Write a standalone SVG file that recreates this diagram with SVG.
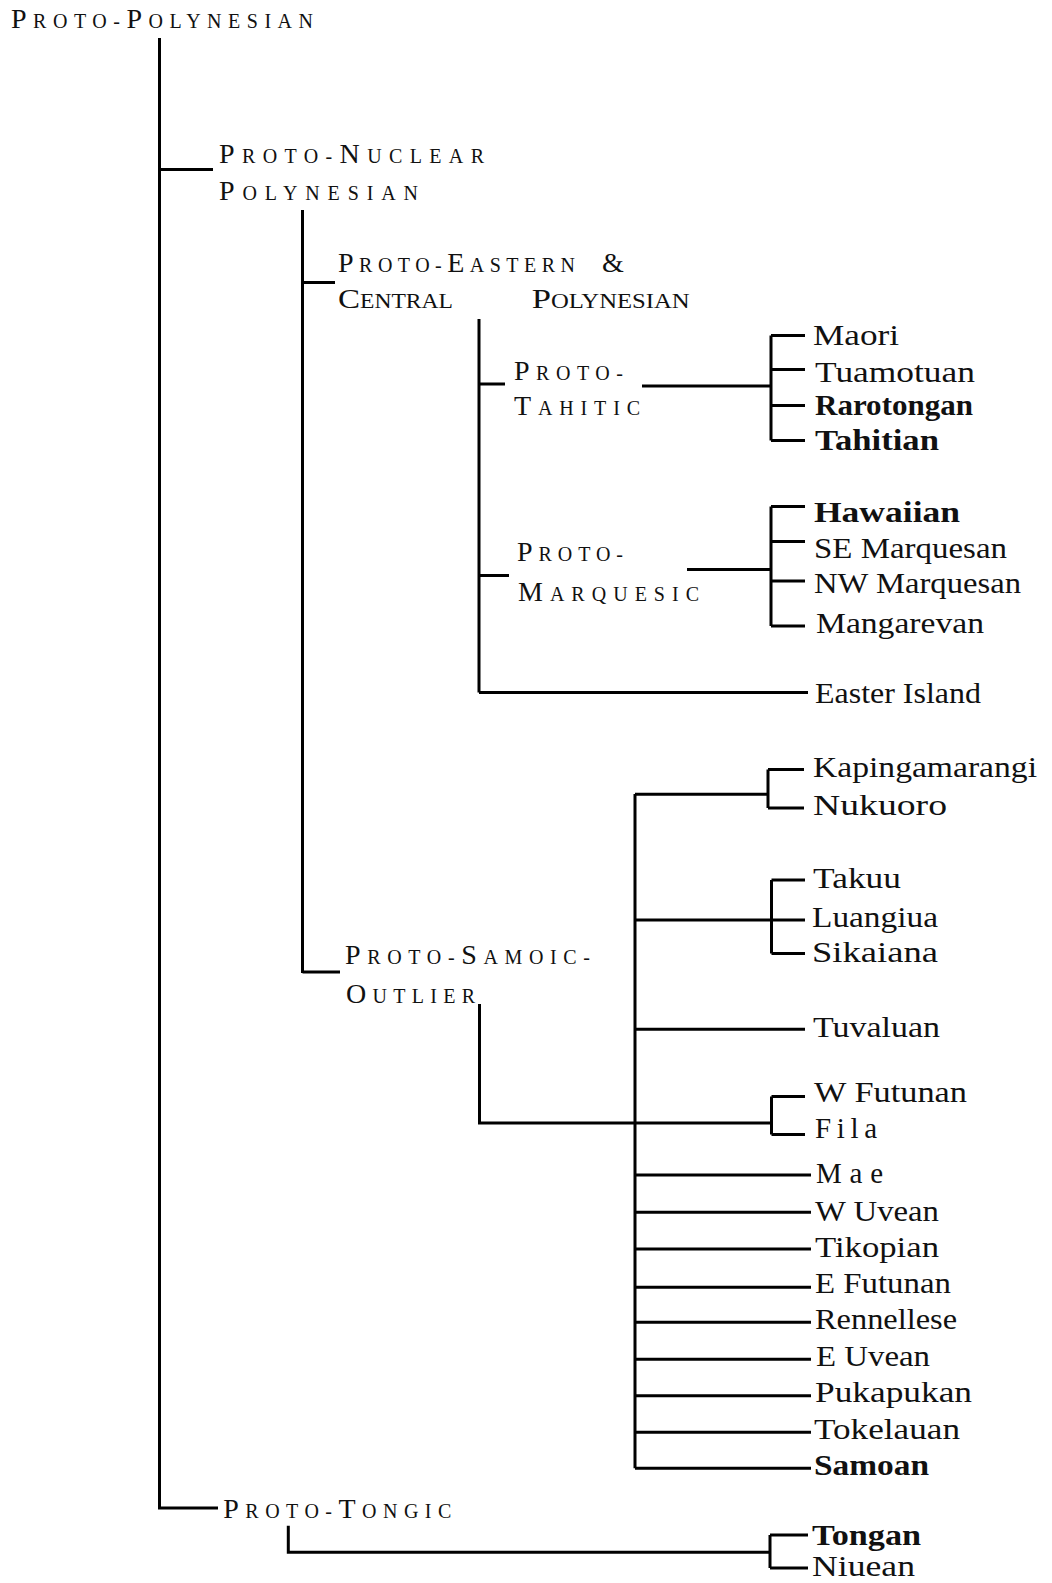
<svg xmlns="http://www.w3.org/2000/svg" width="1052" height="1583" viewBox="0 0 1052 1583">
<style>
.c{fill:none;stroke:#000;stroke-width:3;stroke-linecap:butt}
.sc{font-family:"Liberation Serif",serif;font-size:20px;fill:#111;letter-spacing:3px}
.sc .b{font-size:28px}
.lf{font-family:"Liberation Serif",serif;font-size:29px;fill:#111}
.bd{font-weight:bold}
</style>
<rect width="1052" height="1583" fill="#fff"/>
<g id="connectors">
<path class="c" d="M159.5,38V1508H218M159.5,169.5H213"/>
<path class="c" d="M302.5,210V973M302.5,282.5H335M302.5,972H340"/>
<path class="c" d="M479,319V692.5M479,384H505M479,575.5H509M479,692.5H808"/>
<path class="c" d="M642,386H771M771,335.5V440.5M771,335.5H805M771,369.5H805M771,405.5H805M771,440.5H805"/>
<path class="c" d="M687,569.5H771M771,506.5V626M771,506.5H805M771,541.5H805M771,581H805M771,626H805"/>
<path class="c" d="M479.5,1004V1123H771.5M771.5,1096.5V1134.5M771.5,1096.5H805M771.5,1134.5H805"/>
<path class="c" d="M635,794V1468.3"/>
<path class="c" d="M635,794.3H768M768,769.5V808M768,769.5H804M768,808H804"/>
<path class="c" d="M635,920H805M771.5,880V953.5M771.5,880H805M771.5,953.5H805"/>
<path class="c" d="M635,1029.3H805"/>
<path class="c" d="M635,1175H811M635,1212.3H811M635,1249H811M635,1287.3H811M635,1322.3H811M635,1359.3H811M635,1395.7H811M635,1432.3H811M635,1468.3H811"/>
<path class="c" d="M288.3,1525.7V1552.3H770M770,1535V1568M770,1535H808M770,1568H808"/>
</g>
<g id="proto-polynesian"><text class="sc" x="11" y="28.3" textLength="305" lengthAdjust="spacing"><tspan class="b">P</tspan>ROTO-<tspan class="b">P</tspan>OLYNESIAN</text></g>
<g id="proto-nuclear-polynesian">
<text class="sc" x="219" y="163.3" textLength="268" lengthAdjust="spacing"><tspan class="b">P</tspan>ROTO-<tspan class="b">N</tspan>UCLEAR</text>
<text class="sc" x="219" y="200" textLength="202" lengthAdjust="spacing"><tspan class="b">P</tspan>OLYNESIAN</text>
</g>
<g id="proto-eastern-central">
<text class="sc" x="338" y="271.7" textLength="240" lengthAdjust="spacing"><tspan class="b">P</tspan>ROTO-<tspan class="b">E</tspan>ASTERN</text>
<text class="sc" x="602" y="271.7" style="font-size:28px">&amp;</text>
<text class="sc" x="338" y="308.3" style="letter-spacing:0" textLength="115" lengthAdjust="spacingAndGlyphs"><tspan class="b">C</tspan>ENTRAL</text>
<text class="sc" x="531.7" y="308.3" style="letter-spacing:0" textLength="158" lengthAdjust="spacingAndGlyphs"><tspan class="b">P</tspan>OLYNESIAN</text>
</g>
<g id="proto-tahitic">
<text class="sc" x="514" y="379.6" textLength="112" lengthAdjust="spacing"><tspan class="b">P</tspan>ROTO-</text>
<text class="sc" x="514" y="415" textLength="129" lengthAdjust="spacing"><tspan class="b">T</tspan>AHITIC</text>
</g>
<g id="proto-marquesic">
<text class="sc" x="517" y="561" textLength="109" lengthAdjust="spacing"><tspan class="b">P</tspan>ROTO-</text>
<text class="sc" x="518" y="600.7" textLength="184" lengthAdjust="spacing"><tspan class="b">M</tspan>ARQUESIC</text>
</g>
<g id="proto-samoic-outlier">
<text class="sc" x="345" y="964" textLength="248" lengthAdjust="spacing"><tspan class="b">P</tspan>ROTO-<tspan class="b">S</tspan>AMOIC-</text>
<text class="sc" x="346" y="1002.5" textLength="132" lengthAdjust="spacing"><tspan class="b">O</tspan>UTLIER</text>
</g>
<g id="proto-tongic"><text class="sc" x="223.3" y="1518.3" textLength="231" lengthAdjust="spacing"><tspan class="b">P</tspan>ROTO-<tspan class="b">T</tspan>ONGIC</text></g>
<g id="maori"><text class="lf" x="813" y="345" textLength="86" lengthAdjust="spacingAndGlyphs">Maori</text></g>
<g id="tuamotuan"><text class="lf" x="815" y="381.7" textLength="160" lengthAdjust="spacingAndGlyphs">Tuamotuan</text></g>
<g id="rarotongan"><text class="lf bd" x="815" y="415" textLength="158" lengthAdjust="spacingAndGlyphs">Rarotongan</text></g>
<g id="tahitian"><text class="lf bd" x="815" y="450" textLength="124" lengthAdjust="spacingAndGlyphs">Tahitian</text></g>
<g id="hawaiian"><text class="lf bd" x="814" y="521.7" textLength="146" lengthAdjust="spacingAndGlyphs">Hawaiian</text></g>
<g id="se-marquesan"><text class="lf" x="814" y="558.3" textLength="193" lengthAdjust="spacingAndGlyphs">SE Marquesan</text></g>
<g id="nw-marquesan"><text class="lf" x="814" y="593.3" textLength="207" lengthAdjust="spacingAndGlyphs">NW Marquesan</text></g>
<g id="mangarevan"><text class="lf" x="816" y="633.3" textLength="168" lengthAdjust="spacingAndGlyphs">Mangarevan</text></g>
<g id="easter-island"><text class="lf" x="815" y="702.7" textLength="166" lengthAdjust="spacingAndGlyphs">Easter Island</text></g>
<g id="kapingamarangi"><text class="lf" x="813" y="776.7" textLength="224" lengthAdjust="spacingAndGlyphs">Kapingamarangi</text></g>
<g id="nukuoro"><text class="lf" x="813" y="815" textLength="134" lengthAdjust="spacingAndGlyphs">Nukuoro</text></g>
<g id="takuu"><text class="lf" x="813" y="888.3" textLength="88" lengthAdjust="spacingAndGlyphs">Takuu</text></g>
<g id="luangiua"><text class="lf" x="812" y="926.7" textLength="126" lengthAdjust="spacingAndGlyphs">Luangiua</text></g>
<g id="sikaiana"><text class="lf" x="812" y="961.7" textLength="126" lengthAdjust="spacingAndGlyphs">Sikaiana</text></g>
<g id="tuvaluan"><text class="lf" x="813" y="1036.7" textLength="127" lengthAdjust="spacingAndGlyphs">Tuvaluan</text></g>
<g id="w-futunan"><text class="lf" x="814" y="1101.7" textLength="153" lengthAdjust="spacingAndGlyphs">W Futunan</text></g>
<g id="fila"><text class="lf" x="815" y="1138.3" textLength="62" lengthAdjust="spacing">Fila</text></g>
<g id="mae"><text class="lf" x="816" y="1183" textLength="67" lengthAdjust="spacing">Mae</text></g>
<g id="w-uvean"><text class="lf" x="815" y="1220.5" textLength="124" lengthAdjust="spacingAndGlyphs">W Uvean</text></g>
<g id="tikopian"><text class="lf" x="815" y="1256.7" textLength="124" lengthAdjust="spacingAndGlyphs">Tikopian</text></g>
<g id="e-futunan"><text class="lf" x="815" y="1292.5" textLength="136" lengthAdjust="spacingAndGlyphs">E Futunan</text></g>
<g id="rennellese"><text class="lf" x="815" y="1328.7" textLength="142" lengthAdjust="spacingAndGlyphs">Rennellese</text></g>
<g id="e-uvean"><text class="lf" x="816" y="1365.5" textLength="114" lengthAdjust="spacingAndGlyphs">E Uvean</text></g>
<g id="pukapukan"><text class="lf" x="815" y="1402" textLength="157" lengthAdjust="spacingAndGlyphs">Pukapukan</text></g>
<g id="tokelauan"><text class="lf" x="814" y="1438.7" textLength="146" lengthAdjust="spacingAndGlyphs">Tokelauan</text></g>
<g id="samoan"><text class="lf bd" x="814" y="1475" textLength="115" lengthAdjust="spacingAndGlyphs">Samoan</text></g>
<g id="tongan"><text class="lf bd" x="812" y="1545" textLength="109" lengthAdjust="spacingAndGlyphs">Tongan</text></g>
<g id="niuean"><text class="lf" x="812" y="1576" textLength="103" lengthAdjust="spacingAndGlyphs">Niuean</text></g>
</svg>
